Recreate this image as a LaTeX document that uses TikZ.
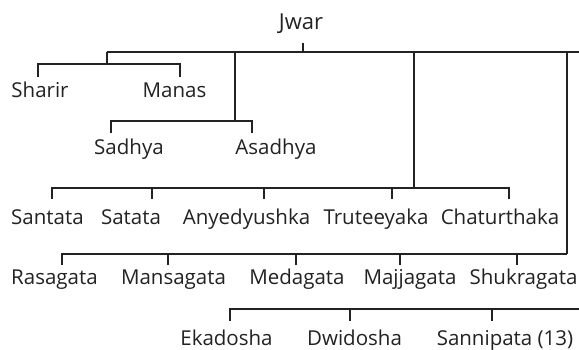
\documentclass[tikz,border=0pt]{standalone}
\usepackage{fontspec}
\setmainfont{Open Sans}
\definecolor{ink}{HTML}{222222}
\begin{document}
\begin{tikzpicture}[x=1pt,y=-1pt,
  lbl/.style={anchor=base,inner sep=0pt,font=\fontsize{20.5}{22}\selectfont,text=ink},
  toplbl/.style={lbl,font=\fontsize{22}{24}\selectfont},
  ln/.style={draw=ink,line width=1.5pt}]
\useasboundingbox (0,0) rectangle (579,350);
% labels
\node[toplbl] (jwar) at (301,30) {Jwar};
\node[lbl] (sharir) at (40,98) {Sharir};
\node[lbl] (manas) at (174.5,98) {Manas};
\node[lbl] (sadhya) at (129,155) {Sadhya};
\node[lbl] (asadhya) at (276,155) {Asadhya};
\node[lbl] (santata) at (47.5,225) {Santata};
\node[lbl] (satata) at (131,225) {Satata};
\node[lbl] (anyed) at (246.5,225) {Anyedyushka};
\node[lbl] (trut) at (376,225) {Truteeyaka};
\node[lbl] (chat) at (500,225) {Chaturthaka};
\node[lbl] (rasa) at (54.5,284) {Rasagata};
\node[lbl] (mansa) at (173.5,284) {Mansagata};
\node[lbl] (meda) at (297,284) {Medagata};
\node[lbl] (majja) at (410,284) {Majjagata};
\node[lbl] (shukra) at (523.5,284) {Shukragata};
\node[lbl] (eka) at (226.5,345) {Ekadosha};
\node[lbl] (dwi) at (354.5,345) {Dwidosha};
\node[lbl] (sanni) at (505,345) {Sannipata (13)};
% junction coordinates
\coordinate (jt) at (303,43);
\coordinate (jb) at (303,52);
\coordinate (bL) at (107,52);
\coordinate (bR) at (579,52);
\coordinate (smA) at (107,64);
\coordinate (sdA) at (235,121);
\coordinate (stA) at (414,188);
\coordinate (rsA) at (567,254);
\coordinate (edL) at (230,309);
\coordinate (edR) at (579,309);
% top
\draw[ln] (jt) -- (jb);
\draw[ln] (bL) -- (bR);
% Sharir / Manas
\draw[ln] (bL) -- (smA);
\draw[ln] (38,77) -- (38,64) -- (180,64) -- (180,77);
% Sadhya / Asadhya
\draw[ln] (235,52) -- (sdA);
\draw[ln] (111,133) -- (111,121) -- (252,121) -- (252,133);
% Santata row
\draw[ln] (414,52) -- (stA);
\draw[ln] (52,199) -- (52,188) -- (509,188) -- (509,199);
\foreach \x in {152,264,392} \draw[ln] (\x,188) -- (\x,199);
% Rasagata row
\draw[ln] (567,52) -- (rsA);
\draw[ln] (62,265) -- (62,254) -- (rsA);
\foreach \x in {168,296,400,517} \draw[ln] (\x,254) -- (\x,265);
% Ekadosha row
\draw[ln] (230,321) -- (edL) -- (edR);
\foreach \x in {350,492} \draw[ln] (\x,309) -- (\x,321);
\end{tikzpicture}
\end{document}
